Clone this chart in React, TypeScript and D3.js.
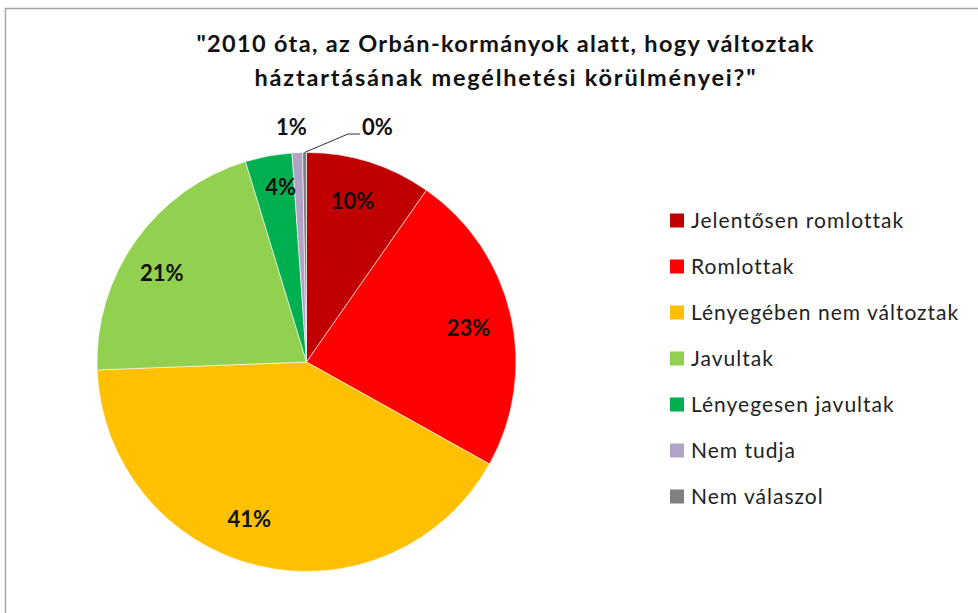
import React from "react";
import * as d3 from "d3";

const categories = [
  "Jelentősen romlottak",
  "Romlottak",
  "Lényegében nem változtak",
  "Javultak",
  "Lényegesen javultak",
  "Nem tudja",
  "Nem válaszol",
];
const values = [9.7, 23.4, 41.3, 20.9, 3.6, 0.8, 0.3];
const labels = ["10%", "23%", "41%", "21%", "4%", "1%", "0%"];
const colors = ["#C00000", "#FF0000", "#FFC000", "#92D050", "#00B050", "#B3A2C7", "#7F7F7F"];
const titleLines = [
  "\"2010 óta, az Orbán-kormányok alatt, hogy változtak",
  "háztartásának megélhetési körülményei?\"",
];

const W = 978;
const H = 613;
const cx = 306.5;
const cy = 362;
const R = 209.5;

// label layout (radius factor, angle offset in degrees)
const labelRadius = [0.8, 0.79, 0.8, 0.81, 0.845];
const labelAngleOffset = [-1.5, 1, 6.5, -4, 2];

export default function App() {
  const pie = d3.pie<number>().sort(null).value((d) => d)(values);
  const arc = d3.arc<d3.PieArcDatum<number>>().innerRadius(0).outerRadius(R);

  const font = "Lato, 'Open Sans', sans-serif";
  const titleWidths = [617, 501];

  return (
    <svg
      width={W}
      height={H}
      style={{ position: "fixed", left: 0, top: 0, background: "#fff", fontVariantLigatures: "none" }}
    >
      <rect x={0} y={0} width={W} height={H} fill="#fff" />
      <path d={`M5.5,${H} L5.5,8.5 L${W},8.5`} fill="none" stroke="#A6A6A6" strokeWidth={1.5} />
      {titleLines.map((t, i) => (
        <text
          key={i}
          x={505}
          y={52 + i * 34}
          textAnchor="middle"
          fontFamily={font}
          fontWeight="bold"
          fontSize={23.5}
          fill="#111"
          textLength={titleWidths[i]}
          lengthAdjust="spacing"
          style={{ fontVariantLigatures: "none" }}
        >
          {t}
        </text>
      ))}
      <g transform={`translate(${cx},${cy})`}>
        {pie.map((p, i) => (
          <path key={i} d={arc(p) || ""} fill={colors[i]} stroke="#fff" strokeWidth={0.6} />
        ))}
        {pie.map((p, i) => {
          let x: number;
          let y: number;
          if (i < 5) {
            const a = (p.startAngle + p.endAngle) / 2 + (labelAngleOffset[i] * Math.PI) / 180;
            x = Math.sin(a) * R * labelRadius[i];
            y = -Math.cos(a) * R * labelRadius[i];
          } else if (i === 5) {
            x = 291.5 - cx;
            y = 127.5 - cy;
          } else {
            x = 377.5 - cx;
            y = 127.5 - cy;
          }
          return (
            <text
              key={i}
              x={x}
              y={y}
              dy="0.36em"
              textAnchor="middle"
              fontFamily={font}
              fontWeight="bold"
              fontSize={22}
              fill="#111"
            >
              {labels[i]}
            </text>
          );
        })}
        {(() => {
          const p = pie[6];
          const a = (p.startAngle + p.endAngle) / 2;
          const x0 = Math.sin(a) * R;
          const y0 = -Math.cos(a) * R;
          return (
            <polyline
              points={`${x0},${y0} ${348 - cx},${134 - cy} ${360 - cx},${134 - cy}`}
              fill="none"
              stroke="#333"
              strokeWidth={1}
            />
          );
        })()}
      </g>
      {categories.map((c, i) => {
        const y = 220.5 + i * 46;
        return (
          <g key={i}>
            <rect x={670} y={y - 7} width={14} height={14} fill={colors[i]} />
            <text
              x={691}
              y={y + 7.5}
              fontFamily={font}
              fontSize={21}
              letterSpacing={1}
              fill="#222"
              style={{ fontVariantLigatures: "none" }}
            >
              {c}
            </text>
          </g>
        );
      })}
    </svg>
  );
}
